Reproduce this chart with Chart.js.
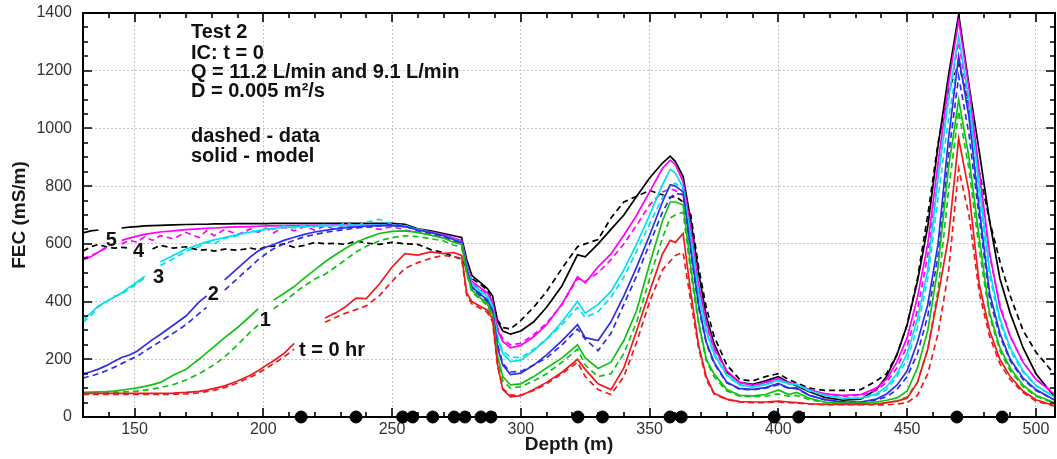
<!DOCTYPE html>
<html>
<head>
<meta charset="utf-8">
<script src="https://cdn.jsdelivr.net/npm/chart.js@4.4.0/dist/chart.umd.min.js"></script>
<style>
  html, body { margin: 0; padding: 0; background: #fff; }
</style>
</head>
<body>
<canvas id="fecChart" width="1057" height="459"></canvas>
<script>
// depth grid shared by all curves (m)
const depth = [
  130, 133, 136, 139, 142, 145, 148, 151, 154, 157,
  160, 165, 170, 175, 178, 181, 185, 190, 195, 198,
  201, 204, 208, 212, 216, 220, 224, 228, 232, 236,
  240, 245, 250, 255, 260, 265, 270, 274,
  277, 279, 281, 284, 287, 289, 291, 293, 296, 300,
  305, 310, 316, 322, 325, 330, 335, 340, 345, 350,
  355, 358, 360, 363, 366, 369, 372, 375, 380, 385,
  390, 395, 400, 404, 407, 412, 418, 425, 432, 438,
  442, 446, 450, 454, 458, 462, 466, 470, 474, 478,
  482, 486, 490, 495, 500, 507
];

// FEC (mS/m), solid = model, dashed = data.  null = gap where a curve label sits
const blackModel = [
  638, 645, 648, null, null, 655, 658, 660, 662, 663,
  664, 666, 667, 668, 668, 669, 669, 670, 670, 670,
  670, 671, 671, 671, 671, 671, 671, 671, 671, 671,
  671, 671, 671, 668, 652, 645, 636, 628,
  622, 545, 490, 468, 445, 420, 330, 298, 287, 298,
  330, 380, 455, 562, 555, 600, 650, 700, 765, 828,
  880, 904, 885, 833, 680, 500, 350, 255, 155, 120,
  113, 125, 140, 120, 108, 88, 68, 58, 62, 95,
  140, 215, 320, 470, 660, 940, 1180, 1395, 1150, 920,
  680, 480, 360, 240, 150, 72
];
const blackData = [
  575, 590, 598, 590, 585, 588, 585, null, null, 582,
  595, 585, 590, 578, 580, 575, 582, 578, 585, 580,
  590, 592, 600, 588, 595, 605, 600, 602, 598, 610,
  603, 598, 605, 600, 598, 580, 570, 555,
  548, 515, 480, 462, 440, 405, 335, 310, 305, 335,
  380, 435, 515, 590, 600, 615, 690, 745, 765, 785,
  770, 760, 765, 745, 700, 520, 380, 280, 180, 130,
  125, 140, 150, 130, 118, 100, 92, 92, 95, 125,
  150, 215, 320, 480, 700, 950, 1130, 1225, 1080, 850,
  680, 540, 420, 300, 225, 150
];
const magentaModel = [
  544, 555, 572, 586, null, 612, 620, 627, 633, 637,
  641, 645, 649, 652, 654, 655, 657, 659, 660, 661,
  662, 662, 663, 663, 664, 664, 664, 665, 665, 665,
  665, 665, 663, 660, 650, 642, 632, 620,
  612, 530, 470, 450, 430, 400, 300, 262, 240, 248,
  278, 320, 392, 486, 465, 520, 565, 630, 700, 780,
  862, 890, 875, 815, 650, 460, 330, 240, 160, 120,
  110, 120, 134, 118, 113, 95, 80, 75, 78, 100,
  130, 190, 275, 415, 600, 880, 1150, 1375, 1140, 850,
  570, 380, 280, 190, 130, 80
];
const magentaData = [
  550, 560, 570, 590, null, 600, 612, 606, 625, 612,
  628, 618, 640, 622, 645, 628, 650, 632, 652, 640,
  655, 638, 658, 645, 660, 648, 662, 650, 665, 655,
  662, 650, 660, 648, 640, 632, 622, 608,
  600, 520, 468, 445, 425, 395, 310, 270, 250, 255,
  285, 325, 390, 480, 470, 500, 545, 600, 665, 735,
  780, 790, 785, 770, 640, 450, 320, 235, 158, 118,
  110, 118, 132, 118, 112, 92, 80, 72, 75, 92,
  120, 170, 245, 370, 560, 830, 1100, 1300, 1080, 820,
  560, 390, 280, 190, 130, 85
];
const cyanModel = [
  336, 360, 385, 400, 415, 430, 450, 468, 488, null,
  537, 560, 582, 598, 607, 614, 622, 632, 641, 646,
  650, 654, 657, 659, 660, 661, 662, 663, 663, 664,
  664, 665, 664, 660, 650, 640, 628, 616,
  606, 520, 460, 440, 418, 385, 270, 220, 192, 197,
  230, 270, 330, 400, 360, 390, 435, 510, 600, 700,
  805, 858, 845, 795, 620, 430, 300, 220, 145, 112,
  104, 112, 128, 115, 113, 92, 75, 65, 65, 80,
  105, 150, 220, 340, 510, 830, 1100, 1320, 1100, 800,
  510, 340, 240, 160, 110, 70
];
const cyanData = [
  328, 350, 382, 398, 418, 425, 445, 462, 482, null,
  525, 548, 575, 590, 605, 600, 620, 628, 645, 640,
  655, 650, 662, 655, 665, 658, 668, 660, 672, 662,
  675, 685, 668, 665, 648, 640, 628, 612,
  600, 515, 455, 432, 410, 380, 280, 228, 208, 205,
  235, 270, 320, 380, 345, 365, 415, 485, 575, 670,
  760, 800, 810, 790, 610, 420, 295, 215, 142, 110,
  104, 112, 125, 115, 112, 90, 75, 66, 65, 75,
  95, 140, 200, 310, 480, 760, 1030, 1250, 1040, 760,
  490, 330, 230, 155, 108, 70
];
const blueModel = [
  149, 157, 166, 178, 192, 206, 215, 228, 248, 268,
  286, 318, 350, 398, 420, null, 475, 515, 555, 575,
  588, 598, 612, 623, 633, 641, 647, 652, 656, 659,
  661, 663, 664, 660, 648, 640, 628, 614,
  605, 512, 450, 428, 405, 370, 240, 180, 147, 152,
  180, 215, 265, 320, 275, 265, 330, 420, 520, 630,
  745, 805, 800, 780, 580, 390, 260, 190, 120, 98,
  96, 102, 116, 100, 101, 75, 60, 52, 52, 62,
  80, 110, 160, 260, 390, 600, 960, 1250, 1040, 720,
  430, 290, 200, 135, 95, 60
];
const blueData = [
  135, 142, 150, 160, 172, 185, 198, 210, 228, 245,
  262, 290, 320, 358, 380, null, 440, 480, 520, 545,
  565, 583, 600, 612, 625, 632, 640, 645, 650, 655,
  658, 662, 668, 662, 645, 636, 625, 610,
  600, 510, 445, 422, 400, 365, 250, 185, 156, 158,
  180, 205, 250, 305, 270, 230, 290, 390, 490, 600,
  710, 760, 775, 770, 570, 380, 255, 185, 118, 96,
  94, 100, 112, 100, 98, 75, 60, 52, 52, 58,
  70, 95, 140, 220, 350, 560, 900, 1180, 980, 690,
  410, 280, 195, 130, 92, 60
];
const greenModel = [
  85, 86, 87, 88, 90, 93, 97, 101, 106, 112,
  120, 145, 165, 200, 222, 245, 275, 310, 350, 375,
  null, 405, 428, 452, 482, 510, 538, 562, 585, 605,
  620, 636, 643, 645, 640, 630, 620, 605,
  598, 500, 440, 415, 392, 355, 210, 140, 111, 115,
  140, 170, 205, 250, 205, 168, 190, 265, 370, 530,
  680, 745, 745, 735, 520, 330, 200, 150, 95, 75,
  73, 78, 94, 78, 85, 65, 52, 48, 48, 52,
  58, 66, 90, 170, 300, 520, 860, 1100, 900, 620,
  360, 240, 170, 110, 75, 50
];
const greenData = [
  82, 82, 83, 84, 85, 87, 88, 90, 93, 97,
  102, 112, 128, 150, 165, 182, 208, 250, 295, 318,
  null, 375, 400, 428, 455, 478, 495, 520, 545, 572,
  592, 610, 622, 628, 625, 618, 610, 595,
  590, 495, 432, 410, 385, 345, 200, 125, 100, 105,
  125, 150, 190, 235, 180, 140, 150, 220, 330, 480,
  620, 690, 700, 710, 500, 320, 195, 140, 90, 72,
  70, 72, 80, 72, 75, 60, 50, 46, 46, 47,
  50, 55, 70, 120, 235, 440, 780, 1060, 860, 580,
  350, 230, 160, 105, 72, 48
];
const redModel = [
  82, 82, 82, 82, 82, 82, 82, 82, 82, 82,
  82, 83, 85, 89, 93, 99, 108, 125, 145, 160,
  178, 195, 220, 255, null, null, 343, 360, 382, 412,
  410, 460, 520, 566, 561, 572, 566, 570,
  560, 430, 400, 385, 370, 340, 180, 95, 70, 74,
  95, 120, 155, 200, 165, 115, 95, 170, 300, 435,
  565, 612, 605, 636, 430, 250, 140, 82, 62, 53,
  52, 52, 55, 52, 50, 46, 44, 44, 44, 45,
  50, 55, 65, 120, 235, 420, 620, 965, 780, 460,
  300, 200, 140, 90, 60, 40
];
const redData = [
  78, 78, 78, 78, 78, 78, 78, 78, 78, 78,
  78, 79, 80, 84, 88, 93, 102, 118, 138, 152,
  168, 185, 208, 235, null, null, 328, 345, 360, 372,
  385, 420, 470, 515, 535, 550, 560, 555,
  550, 420, 392, 378, 362, 330, 175, 98, 76, 76,
  92, 115, 150, 190, 140, 95, 78, 140, 260, 400,
  510, 540, 560, 570, 400, 240, 130, 80, 60, 52,
  50, 50, 52, 50, 48, 45, 43, 43, 43, 42,
  42, 45, 50, 75, 150, 290, 500, 860, 700, 430,
  280, 185, 130, 85, 55, 38
];

// black markers on the depth axis
const markerDepths = [214.7, 236.0, 254.1, 258.0, 265.8, 274.1, 278.3, 284.5, 288.4,
                      322.2, 331.7, 357.9, 362.3, 398.4, 407.9, 469.3, 486.9];

const xTicks = [150, 200, 250, 300, 350, 400, 450, 500];
const yTicks = [0, 200, 400, 600, 800, 1000, 1200, 1400];

const noteLines = ['Test 2', 'IC: t = 0', 'Q = 11.2 L/min and 9.1 L/min', 'D = 0.005 m\u00B2/s', '', 'dashed - data', 'solid - model'];
const curveNames = ['t = 0 hr', '1', '2', '3', '4', '5'];

const FONT = '"Liberation Sans", Arial, Helvetica, sans-serif';
const colors = ['#ee1c1c', '#12c212', '#2f2fe8', '#00e1ee', '#ff00ff', '#000000'];

const models = [redModel, greenModel, blueModel, cyanModel, magentaModel, blackModel];
const datas = [redData, greenData, blueData, cyanData, magentaData, blackData];

function toPoints(vals) {
  return depth.map((d, i) => ({ x: d, y: vals[i] }));
}

const datasets = [];
models.forEach((vals, i) => {
  datasets.push({
    label: curveNames[i] + ' data',
    data: toPoints(datas[i]),
    borderColor: colors[i],
    borderWidth: 1.7,
    borderDash: [6, 4],
    pointRadius: 0,
    spanGaps: false,
    tension: 0
  });
  datasets.push({
    label: curveNames[i] + ' model',
    data: toPoints(vals),
    borderColor: colors[i],
    borderWidth: 1.7,
    pointRadius: 0,
    spanGaps: false,
    tension: 0
  });
});
datasets.push({
  label: 'markers',
  type: 'scatter',
  data: markerDepths.map(d => ({ x: d, y: 0 })),
  backgroundColor: '#000',
  borderColor: '#000',
  pointRadius: 6,
  clip: false
});

// inward ticks on all four sides plus the black frame
const frameTicks = {
  id: 'frameTicks',
  afterDatasetsDraw(chart) {
    const { ctx, chartArea: a, scales: { x, y } } = chart;
    ctx.save();
    ctx.strokeStyle = '#000';
    ctx.lineWidth = 1.6;
    ctx.beginPath();
    for (let d = 130; d <= 507; d += 10) {
      const px = Math.round(x.getPixelForValue(d));
      const len = d % 50 === 0 ? 9 : 5;
      ctx.moveTo(px, a.bottom); ctx.lineTo(px, a.bottom - len);
      ctx.moveTo(px, a.top); ctx.lineTo(px, a.top + len);
    }
    for (let v = 0; v <= 1400; v += 50) {
      const py = Math.round(y.getPixelForValue(v));
      const len = v % 200 === 0 ? 9 : 5;
      ctx.moveTo(a.left, py); ctx.lineTo(a.left + len, py);
      ctx.moveTo(a.right, py); ctx.lineTo(a.right - len, py);
    }
    ctx.stroke();
    ctx.lineWidth = 2;
    ctx.strokeRect(a.left, a.top, a.right - a.left, a.bottom - a.top);
    ctx.restore();
  }
};

// text block and curve labels
const annotations = {
  id: 'annotations',
  afterDraw(chart) {
    const { ctx, scales: { x, y } } = chart;
    ctx.save();
    ctx.fillStyle = '#111';
    ctx.font = 'bold 20px ' + FONT;
    ctx.textAlign = 'left';
    ctx.textBaseline = 'alphabetic';
    const baselines = [38, 59, 78, 97, 120, 142, 162];
    noteLines.forEach((t, i) => { if (t) ctx.fillText(t, 191, baselines[i]); });

    // curve labels anchored in data units (depth, FEC)
    const tags = [['5', 141, 613], ['4', 151.6, 572], ['3', 159.3, 485],
                  ['2', 180.6, 423], ['1', 200.8, 336], ['t = 0 hr', 226.7, 232]];
    ctx.textAlign = 'center';
    ctx.textBaseline = 'middle';
    tags.forEach(([t, d, v]) => ctx.fillText(t, x.getPixelForValue(d), y.getPixelForValue(v)));
    ctx.restore();
  }
};

new Chart(document.getElementById('fecChart').getContext('2d'), {
  type: 'line',
  data: { datasets },
  options: {
    responsive: false,
    animation: false,
    devicePixelRatio: 1,
    layout: { autoPadding: false, padding: { top: 13, right: 2, left: 0, bottom: 0 } },
    plugins: { legend: { display: false }, tooltip: { enabled: false } },
    scales: {
      x: {
        type: 'linear',
        min: 130,
        max: 507.4,
        afterBuildTicks: s => { s.ticks = xTicks.map(v => ({ value: v })); },
        afterFit: s => { s.height = 42; s.paddingLeft = 0; s.paddingRight = 0; },
        grid: { color: '#c4c4c4', lineWidth: 1, drawTicks: false },
        border: { display: false, dash: [2, 2] },
        ticks: { padding: 3, color: '#333', font: { family: FONT, size: 16 }, maxRotation: 0, callback: v => String(v) },
        title: { display: true, text: 'Depth (m)', color: '#1a1a1a', font: { family: FONT, size: 19, weight: 'bold' }, padding: { top: 0, bottom: 3 } }
      },
      y: {
        min: 0,
        max: 1400,
        afterBuildTicks: s => { s.ticks = yTicks.map(v => ({ value: v })); },
        afterFit: s => { s.width = 83; s.paddingTop = 0; s.paddingBottom = 0; },
        grid: { color: '#c4c4c4', lineWidth: 1, drawTicks: false },
        border: { display: false, dash: [2, 2] },
        ticks: { padding: 11, color: '#333', font: { family: FONT, size: 16 }, callback: v => String(v) },
        title: { display: true, text: 'FEC (mS/m)', color: '#1a1a1a', font: { family: FONT, size: 19, weight: 'bold' }, padding: { top: 8, bottom: 0 } }
      }
    }
  },
  plugins: [frameTicks, annotations]
});
</script>
</body>
</html>
